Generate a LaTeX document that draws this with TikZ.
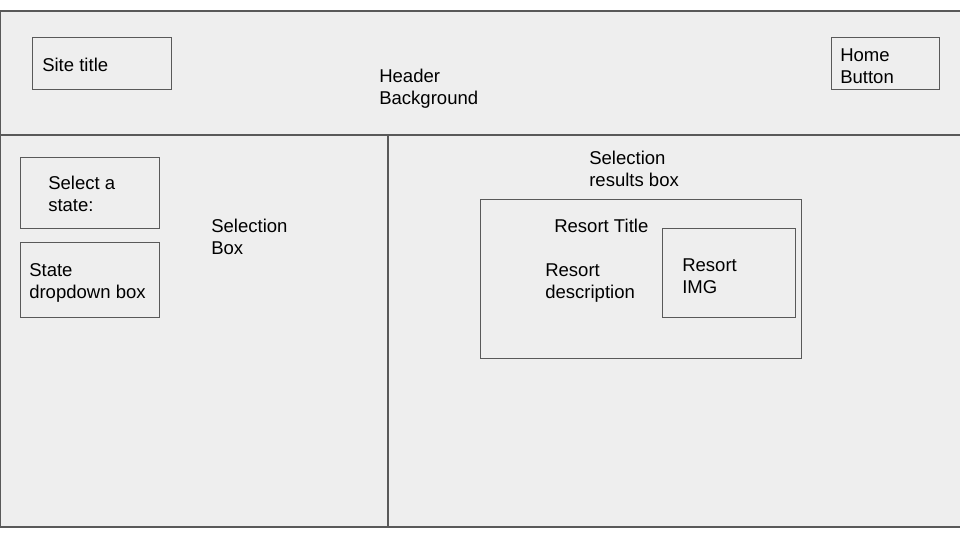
\documentclass[tikz,border=0pt]{standalone}
\usepackage{fontspec}
\setmainfont{Liberation Sans}
\definecolor{bgfill}{HTML}{EEEEEE}
\definecolor{edge}{HTML}{595959}
\tikzset{
  panel/.style={draw=edge, fill=bgfill, line width=0.9pt},
  box/.style={draw=edge, line width=0.75pt, inner sep=0pt, anchor=north west},
  lbl/.style={inner sep=0pt, anchor=west, align=left, text=black,
    font=\fontsize{13.9}{16.5}\selectfont}
}
\begin{document}
\begin{tikzpicture}[x=0.75pt, y=-0.75pt]
\useasboundingbox (0,0) rectangle (960,540);
\clip (0,0) rectangle (960,540);
% panels
\draw[panel] (0,11) rectangle (975,135);
\draw[panel] (0,135) rectangle (388,527);
\draw[panel] (388,135) rectangle (975,527);
% boxes
\node[box, minimum width=104.25pt, minimum height=39pt] (site) at (32,37) {};
\node[box, minimum width=81pt, minimum height=39pt] (home) at (831,37) {};
\node[box, minimum width=104.25pt, minimum height=53.25pt] (select) at (20,157) {};
\node[box, minimum width=104.25pt, minimum height=56.25pt] (drop) at (20,242) {};
\node[box, minimum width=240.75pt, minimum height=119.25pt] (resort) at (480,199) {};
\node[box, minimum width=99.75pt, minimum height=66.75pt] (img) at (662,228) {};
% labels
\node[lbl] (tsite) at (42,65) {Site title};
\node[lbl] (thome) at (840,66) {Home\\Button};
\node[lbl] (thead) at (379,88.5) {Header\\Background};
\node[lbl] (tselect) at (48,194) {Select a\\state:};
\node[lbl] (tdrop) at (29,282.5) {State\\dropdown box};
\node[lbl] (tselbox) at (211,237) {Selection\\Box};
\node[lbl] (tresbox) at (589,169) {Selection\\results box};
\node[lbl] (trtitle) at (554,226) {Resort Title};
\node[lbl] (trdesc) at (545,283.5) {Resort\\description};
\node[lbl] (timg) at (682,276) {Resort\\IMG};
\end{tikzpicture}
\end{document}
